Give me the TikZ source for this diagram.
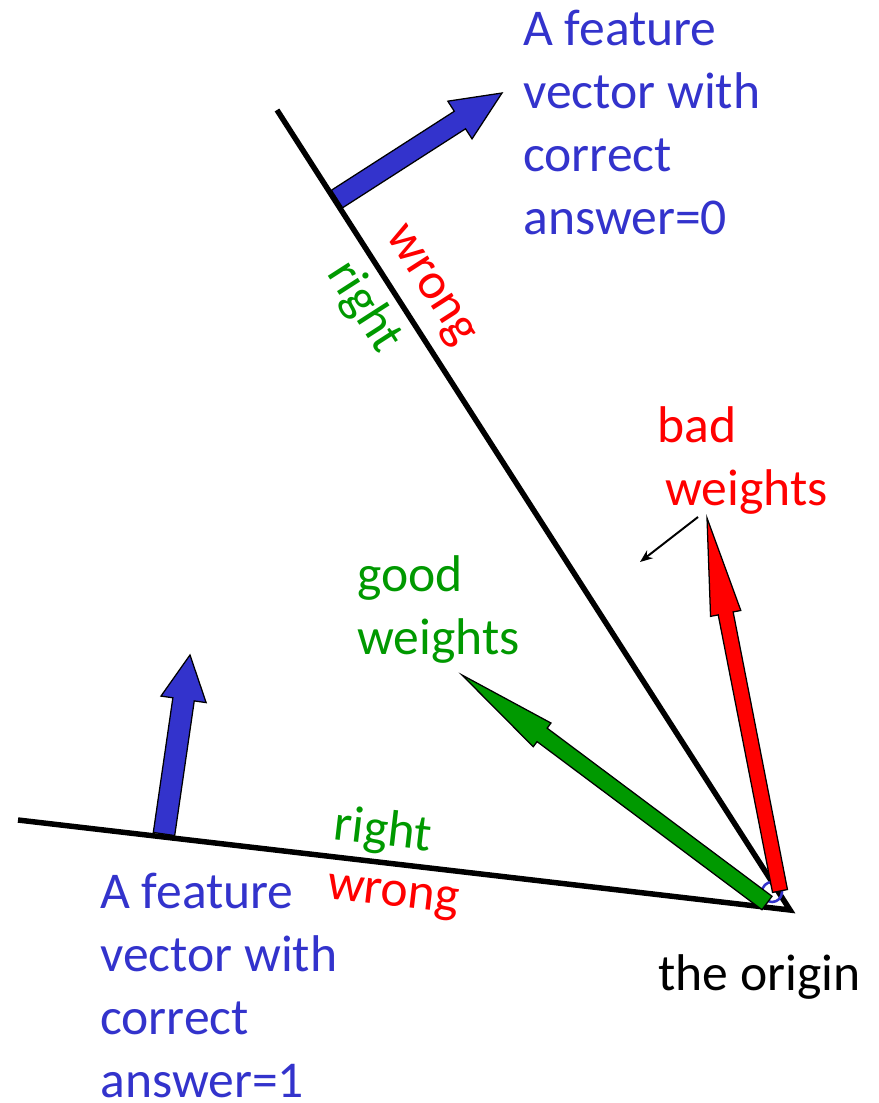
\documentclass[tikz,border=0pt]{standalone}
\usepackage{fontspec}
\setmainfont{Carlito}
\usepackage{xcolor}
\definecolor{cVec}{HTML}{3333CC}
\definecolor{cGood}{HTML}{009900}
\definecolor{cBad}{HTML}{FF0000}
\usepackage{tikz}
\usetikzlibrary{positioning,arrows.meta,calc}
\tikzset{
  label-text/.style={anchor=base west,inner sep=0pt,align=left,
    font=\fontsize{36.7}{44.8}\selectfont},
  side-text/.style={inner sep=0pt,font=\fontsize{36.7}{44.8}\selectfont},
  boundary/.style={line width=3.9pt,draw=black},
  vec-fill/.style={fill=cVec,draw=black,line width=0.9pt,line join=miter},
  good-fill/.style={fill=cGood,draw=black,line width=0.9pt,line join=miter},
  bad-fill/.style={fill=cBad,draw=black,line width=0.9pt,line join=miter},
  pointer/.style={-{Stealth[length=9pt,width=7pt]},line width=1.4pt,draw=black},
}
% block arrow: style, tail, tip, half shaft, half head, head length
\newcommand\fatvec[6]{%
  \path (#3) coordinate (fv-t) ($(#3)!#6!(#2)$) coordinate (fv-h);
  \filldraw[#1] ($(#2)!#4!90:(fv-t)$) -- ($(fv-h)!#4!90:(fv-t)$)
    -- ($(fv-h)!#5!90:(fv-t)$) -- (fv-t) -- ($(fv-h)!#5!-90:(fv-t)$)
    -- ($(fv-h)!#4!-90:(fv-t)$) -- ($(#2)!#4!-90:(fv-t)$) -- cycle;
}

\begin{document}
\begin{tikzpicture}[x=0.025cm,y=-0.025cm]
  \useasboundingbox (0,0) rectangle (879,1103);
  \coordinate (origin) at (790,910);
  \coordinate (upper-end) at (277,110);
  \coordinate (lower-end) at (18,820);

  % the two decision lines
  \draw[boundary] (upper-end) -- (origin) -- (lower-end);
  \draw[cVec,line width=1.8pt] (772,892) circle[radius=10];

  % weight vectors
  \fatvec{good-fill}{767,903}{462,675}{0.21cm}{0.37cm}{2.5cm}
  \fatvec{bad-fill}{780,891}{707,518}{0.19cm}{0.385cm}{2.43cm}

  % feature vectors
  \fatvec{vec-fill}{337,199}{502,93}{0.26cm}{0.56cm}{1.25cm}
  \fatvec{vec-fill}{164,834}{190,655}{0.27cm}{0.57cm}{1.12cm}

  % labels (base = last line)
  \node[label-text,text=cVec] (feat-zero) at (523,234)
    {A feature\\vector with\\correct\\answer=0};
  \node[label-text,text=cVec] (feat-one) at (100,1097)
    {A feature\\vector with\\correct\\answer=1};
  \node[label-text,text=cBad] (bad-top) at (657,442) {bad};
  \node[label-text,text=cBad] (bad-bot) at (665,505) {weights};
  \node[label-text,text=cGood] (good-lbl) at (357,654) {good\\weights};
  \node[label-text] (origin-lbl) at (658,990) {the origin};

  \coordinate (ptr-start) at (698,517);
  \coordinate (ptr-end) at (640,562);
  \draw[pointer] (ptr-start) -- (ptr-end);

  % side markers along the lines
  \node[side-text,text=cBad,rotate=-57.3] (up-wrong) at (428,287) {wrong};
  \node[side-text,text=cGood,rotate=-57.3] (up-right) at (364,307) {right};
  \node[side-text,text=cGood,rotate=-6.65] (low-right) at (383,832) {right};
  \node[side-text,text=cBad,rotate=-6.65] (low-wrong) at (393,898) {wrong};
\end{tikzpicture}
\end{document}
